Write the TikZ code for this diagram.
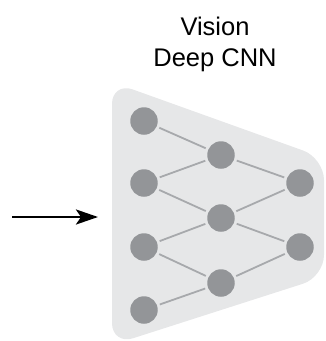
\documentclass[tikz,border=0pt]{standalone}
\usepackage{fontspec}
\setmainfont{Liberation Sans}
\usetikzlibrary{arrows.meta}
\definecolor{bggray}{HTML}{E6E7E8}
\definecolor{nodegray}{HTML}{939598}
\definecolor{linkgray}{HTML}{A7A9AC}
\tikzset{
  neuron/.style={circle, fill=nodegray, minimum size=27.5pt, inner sep=0pt, outer sep=3pt},
  link/.style={draw=linkgray, line width=1.8pt},
  inarrow/.style={-{Stealth[length=22pt,width=15pt,inset=5pt]}, line width=2.8pt, black},
  title/.style={font=\fontsize{25.5}{31}\selectfont, align=center, text=black}
}
\begin{document}
\begin{tikzpicture}[x=1pt,y=-1pt]
\useasboundingbox (0,0) rectangle (326,341);
\fill[bggray, rounded corners=22pt] (112,82) -- (324,158) -- (324,277) -- (112,345) -- cycle;
\node[title] (t) at (215,44) {Vision\\Deep CNN};
\node[neuron] (a1) at (144,121) {};
\node[neuron] (a2) at (144,183) {};
\node[neuron] (a3) at (144,247) {};
\node[neuron] (a4) at (144,310) {};
\node[neuron] (b1) at (221,155) {};
\node[neuron] (b2) at (221,218) {};
\node[neuron] (b3) at (221,283) {};
\node[neuron] (c1) at (300,183) {};
\node[neuron] (c2) at (300,247) {};
\draw[link] (a1) -- (b1);
\draw[link] (a2) -- (b1);
\draw[link] (a2) -- (b2);
\draw[link] (a3) -- (b2);
\draw[link] (a3) -- (b3);
\draw[link] (a4) -- (b3);
\draw[link] (b1) -- (c1);
\draw[link] (b2) -- (c1);
\draw[link] (b2) -- (c2);
\draw[link] (b3) -- (c2);
\coordinate (s) at (12,217);
\coordinate (e) at (98,217);
\draw[inarrow] (s) -- (e);
\end{tikzpicture}
\end{document}
